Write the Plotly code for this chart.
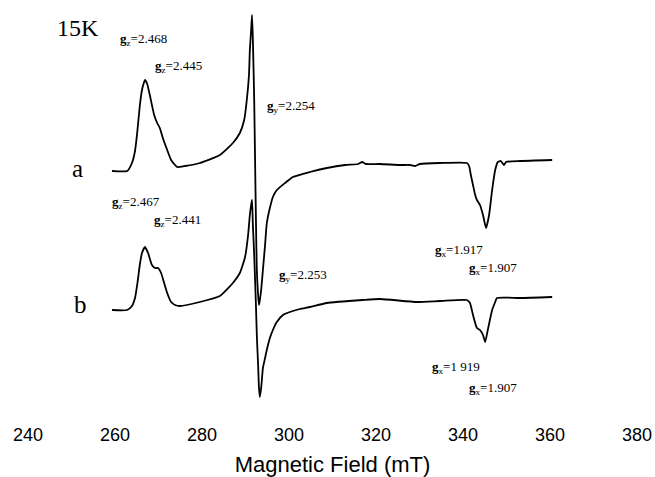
import plotly.graph_objects as go

# Magnetic field (mT) and EPR intensity (arbitrary units) for spectrum a
field_a = [259.3, 262.8, 263.9, 264.6, 265.1, 265.7, 266.2, 266.7, 266.9, 267.4, 268.0, 269.0,
           269.7, 270.3, 271.0, 272.0, 272.9, 273.8, 274.3, 276.1, 279.5, 284.1, 287.1, 288.7,
           289.7, 290.3, 290.8, 291.0, 291.3, 291.5, 291.7, 292.0, 292.2, 292.4, 292.6, 292.9,
           293.1, 293.3, 293.6, 294.0, 294.5, 294.9, 295.6, 296.3, 297.2, 299.1, 300.9, 304.8,
           308.7, 312.9, 315.9, 316.8, 317.7, 320.9, 325.5, 327.8, 329.0, 330.1, 334.7, 340.9,
           341.4, 341.8, 342.3, 342.8, 343.2, 343.9, 344.6, 345.3, 346.0, 346.7, 347.4, 348.0,
           348.7, 349.4, 349.9, 353.1, 360.5]
signal_a = [0, 0, 8, 20, 38, 65, 81, 89, 91, 87, 76, 56,
            48, 43, 33, 21, 11, 6, 4, 5, 8, 16, 28, 38,
            51, 71, 96, 121, 141, 156, 131, 71, 11, -49, -99, -124,
            -134, -129, -119, -99, -74, -52, -37, -26, -19, -12, -6, -1,
            3, 6, 7, 9, 7, 7, 6, 6, 5, 7, 8, 8,
            5, -4, -14, -24, -29, -34, -44, -57, -44, -19, 1, 9,
            10, 6, 9, 10, 11]

# Spectrum b
field_b = [259.3, 262.8, 263.9, 264.6, 265.1, 265.7, 266.2, 266.9, 267.6, 268.5, 269.2, 269.9,
           270.6, 271.3, 272.0, 272.9, 273.8, 274.9, 279.5, 284.1, 287.1, 288.7, 289.9, 290.6,
           291.0, 291.3, 291.5, 291.7, 292.0, 292.2, 292.4, 292.6, 292.9, 293.1, 293.3, 293.6,
           293.8, 294.0, 294.5, 294.9, 295.6, 296.3, 297.2, 298.6, 300.2, 302.5, 304.8, 308.7,
           317.0, 320.9, 329.4, 334.7, 340.9, 341.6, 342.3, 343.2, 343.9, 344.6, 345.1, 345.7,
           346.7, 347.4, 347.8, 353.1, 360.5]
signal_b = [0, 0, 4, 12, 25, 45, 57, 63, 57, 45, 42, 42,
            37, 27, 17, 8, 5, 4, 8, 14, 27, 37, 53, 75,
            95, 105, 110, 85, 55, 30, 5, -25, -55, -78, -87, -78,
            -68, -58, -48, -40, -28, -20, -12, -5, -2, 1, 3, 7,
            10, 11, 8, 9, 10, 7, -5, -18, -20, -25, -32, -20,
            0, 8, 12, 12, 13]

offset_a = 139  # vertical stacking offset for spectrum a

tick_vals = [240, 260, 280, 300, 320, 340, 360, 380]
tick_text = ["240", "260", "280", "300", "320", "340", "360", "380"]

g_labels = ["<b>g</b><sub>z</sub>=2.468", "<b>g</b><sub>z</sub>=2.445", "<b>g</b><sub>y</sub>=2.254",
            "<b>g</b><sub>z</sub>=2.467", "<b>g</b><sub>z</sub>=2.441", "<b>g</b><sub>y</sub>=2.253",
            "<b>g</b><sub>x</sub>=1.917", "<b>g</b><sub>x</sub>=1.907",
            "<b>g</b><sub>x</sub>=1 919", "<b>g</b><sub>x</sub>=1.907"]
g_x = [260.7, 268.7, 294.5, 258.9, 268.5, 297.2, 333.1, 340.9, 332.4, 340.9]
g_y = [271, 244, 204, 108, 90, 35, 60, 42, -57, -78]

fig = go.Figure()
fig.add_trace(go.Scatter(x=field_a, y=[v + offset_a for v in signal_a], mode="lines",
                         line=dict(color="black", width=1.8, shape="spline", smoothing=0.5),
                         showlegend=False))
fig.add_trace(go.Scatter(x=field_b, y=signal_b, mode="lines",
                         line=dict(color="black", width=1.8, shape="spline", smoothing=0.5),
                         showlegend=False))

serif = "Liberation Serif, Times New Roman, serif"
for t, x, y in zip(g_labels, g_x, g_y):
    fig.add_annotation(x=x, y=y, text=t, showarrow=False, xanchor="left", yanchor="middle",
                       font=dict(family=serif, size=13, color="black"))
fig.add_annotation(x=251.5, y=282, text="15K", showarrow=False, font=dict(family=serif, size=24, color="black"))
fig.add_annotation(x=251.3, y=142, text="a", showarrow=False, font=dict(family=serif, size=25, color="black"))
fig.add_annotation(x=252.0, y=6, text="b", showarrow=False, font=dict(family=serif, size=25, color="black"))

fig.update_layout(
    width=655, height=477,
    margin=dict(l=28, r=18, t=0, b=55),
    paper_bgcolor="white", plot_bgcolor="white",
    xaxis=dict(range=[240, 380], tickvals=tick_vals, ticktext=tick_text, showgrid=False,
               zeroline=False, showline=False, ticks="",
               tickfont=dict(family="Liberation Sans, Arial, sans-serif", size=18, color="black"),
               title=dict(text="Magnetic Field (mT)", standoff=13,
                          font=dict(family="Liberation Sans, Arial, sans-serif", size=22, color="black"))),
    yaxis=dict(range=[-112, 310], visible=False, showgrid=False, zeroline=False),
)

fig.write_html("out.html")
